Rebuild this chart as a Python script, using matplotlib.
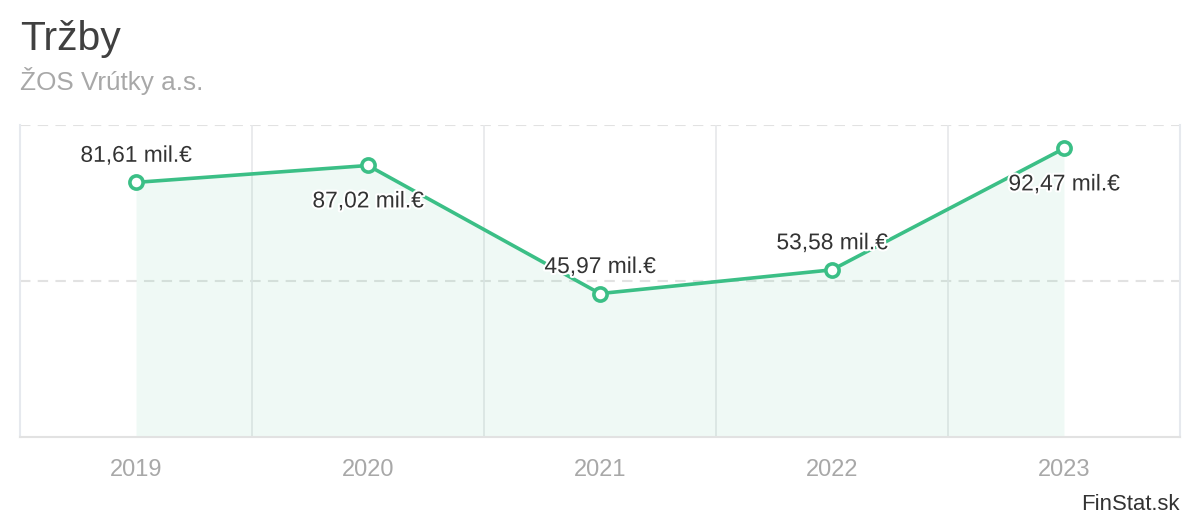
import matplotlib
matplotlib.use("Agg")
import matplotlib.pyplot as plt
import matplotlib.patheffects as pe

# Data
years = ["2019", "2020", "2021", "2022", "2023"]
revenue = [81.61, 87.02, 45.97, 53.58, 92.47]
labels = ["81,61 mil.€", "87,02 mil.€", "45,97 mil.€", "53,58 mil.€", "92,47 mil.€"]
label_below = [False, True, False, False, True]

GREEN = "#3bbf86"
GRID = "#e2e2e2"
TEXT_DARK = "#404040"
TEXT_GRAY = "#a8a8a8"

plt.rcParams["font.family"] = ["Liberation Sans", "DejaVu Sans"]

fig = plt.figure(figsize=(12, 5.2), dpi=100)
ax = fig.add_axes([20 / 1200, 83 / 520, 1160 / 1200, 312 / 520])

x = list(range(len(years)))

ax.fill_between(x, revenue, 0, color=GREEN, alpha=0.08, linewidth=0, zorder=1)
ax.plot(x, revenue, color=GREEN, linewidth=2.6, zorder=4,
        marker="o", markersize=9.5, markerfacecolor="white",
        markeredgecolor=GREEN, markeredgewidth=2.6)

for xi, val, lab, below in zip(x, revenue, labels, label_below):
    off = -25.5 if below else 19.5
    ax.annotate(lab, (xi, val), xytext=(0, off), textcoords="offset points",
                ha="center", va="center", fontsize=16.4, color="#333333", zorder=6,
                path_effects=[pe.withStroke(linewidth=3, foreground="white")])

ax.set_xlim(-0.5, len(years) - 0.5)
ax.set_ylim(0, 100)

# horizontal dashed gridlines
for yv in [50, 100]:
    ax.axhline(yv, color=GRID, linewidth=1.5, linestyle=(0, (5, 3.5)), zorder=0)
# vertical category separators
for xv in [i + 0.5 for i in range(len(years) - 1)]:
    ax.axvline(xv, color="#e6e8ea", linewidth=1.2, zorder=0)

ax.spines["top"].set_visible(False)
ax.spines["bottom"].set_color(GRID)
ax.spines["bottom"].set_linewidth(1.5)
ax.spines["left"].set_color("#e6e9ee")
ax.spines["right"].set_color("#e6e9ee")
ax.spines["left"].set_linewidth(1.5)
ax.spines["right"].set_linewidth(1.5)

ax.set_yticks([])
ax.set_xticks(x)
ax.set_xticklabels(years, fontsize=17, color=TEXT_GRAY)
ax.tick_params(axis="x", length=0, pad=16)

fig.text(20 / 1200, 1 - 50 / 520, "Tržby", fontsize=29.5, color=TEXT_DARK,
         ha="left", va="baseline")
fig.text(20 / 1200, 1 - 90 / 520, "ŽOS Vrútky a.s.", fontsize=18.8, color=TEXT_GRAY,
         ha="left", va="baseline")
fig.text(1180 / 1200, 1 - 510 / 520, "FinStat.sk", fontsize=15.9, color="#333333",
         ha="right", va="baseline")

fig.savefig("out.png", dpi=100, facecolor="white")
